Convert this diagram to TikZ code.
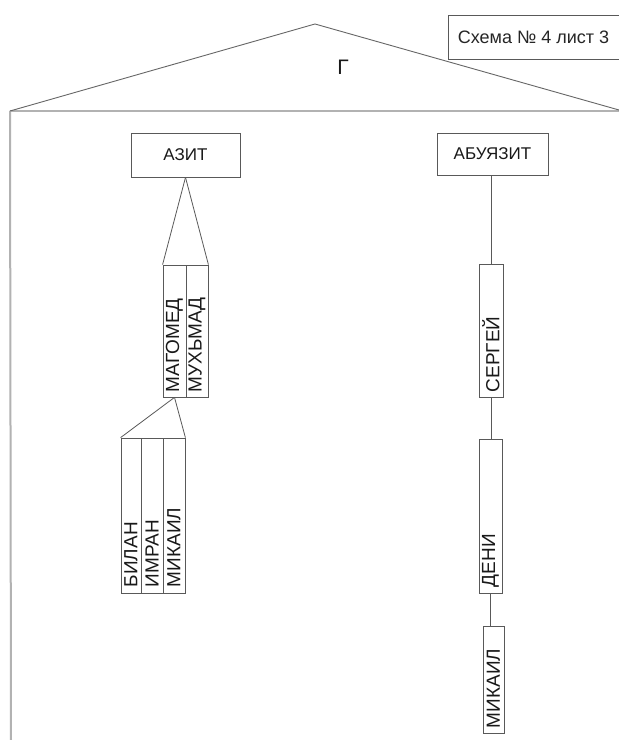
\documentclass[tikz,border=0pt]{standalone}
\usepackage{fontspec}
\setmainfont{Liberation Sans}
\begin{document}
\begin{tikzpicture}[x=1pt,y=1pt,
  line/.style={draw=black!65, line width=0.8pt},
  box/.style={line, rectangle, inner sep=0pt, fill=white, text=black!90},
  hbox/.style={box, font=\fontsize{17}{20}\selectfont},
  colbox/.style={box},
  coltext/.style={rotate=90, anchor=west, inner sep=0pt, text=black!90, font=\fontsize{19}{21}\selectfont},
  frame/.style={draw=black!30, line width=2pt},
  roof/.style={draw=black!60, line width=0.9pt}
]
\useasboundingbox (0,0) rectangle (619,740);
\fill[white] (0,0) rectangle (619,740);

% frame
\coordinate (rl) at (10,629);
\coordinate (ra) at (315,716);
\coordinate (rr) at (619,630);
\coordinate (bl) at (11,0);
\draw[frame] (rl) -- (rr |- rl);
\draw[frame] (rl) -- (bl);
\draw[roof] (rl) -- (ra) -- (rr);

% title box
\node[box, minimum width=177, minimum height=44, font=\fontsize{18}{20}\selectfont, text=black!85] (title) at (536.5,703) {\hspace*{-6pt}Схема № 4 лист 3};
\node[text=black!90, font=\fontsize{21}{22}\selectfont, inner sep=0pt] (g) at (343,673) {Г};

% left branch
\node[hbox, minimum width=109, minimum height=44] (azit) at (185.5,585) {АЗИТ};
\node[colbox, minimum width=23, minimum height=132] (mag) at (174.5,409) {};
\node[colbox, minimum width=22, minimum height=132] (muh) at (197,409) {};
\node[coltext] at ([yshift=5]mag.south) {МАГОМЕД};
\node[coltext] at ([yshift=5]muh.south) {МУХЬМАД};
\draw[line] (azit.south) -- (mag.north west);
\draw[line] (azit.south) -- (muh.north east);

\node[colbox, minimum width=20, minimum height=155] (bil) at (131,224.5) {};
\node[colbox, minimum width=22, minimum height=155] (imr) at (152,224.5) {};
\node[colbox, minimum width=22, minimum height=155] (mik) at (174,224.5) {};
\node[coltext] at ([yshift=6]bil.south) {БИЛАН};
\node[coltext] at ([yshift=6]imr.south) {ИМРАН};
\node[coltext] at ([yshift=6]mik.south) {МИКАИЛ};
\draw[line] (mag.south) -- (bil.north west);
\draw[line] (mag.south) -- (mik.north east);

% right branch
\node[hbox, minimum width=111, minimum height=42] (abu) at (492.5,586) {АБУЯЗИТ};
\node[colbox, minimum width=24, minimum height=133] (ser) at (491,409.5) {};
\node[colbox, minimum width=23, minimum height=154] (den) at (490.5,224) {};
\node[colbox, minimum width=21, minimum height=107] (mik2) at (493.5,60.5) {};
\node[coltext] at ([yshift=5]ser.south) {СЕРГЕЙ};
\node[coltext] at ([yshift=6]den.south) {ДЕНИ};
\node[coltext] at ([yshift=5]mik2.south) {МИКАИЛ};
\draw[line] (abu.south -| ser.north) -- (ser.north);
\draw[line] (ser.south) -- (den.north -| ser.south);
\draw[line] (den.south) -- (den.south |- mik2.north);
\end{tikzpicture}
\end{document}
